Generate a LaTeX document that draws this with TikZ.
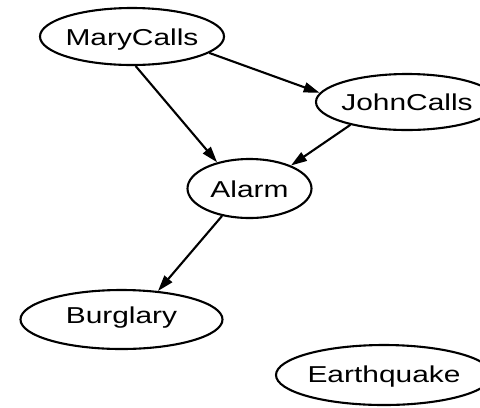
\documentclass[tikz,border=0pt]{standalone}
\usepackage{fontspec}
\setmainfont{Liberation Sans}
\usetikzlibrary{shapes.geometric,arrows.meta}
\newcommand{\nlbl}[2][0bp]{\makebox[0pt][c]{\raisebox{#1}{\scalebox{1.3}[1]{#2}}}}
\begin{document}
\begin{tikzpicture}[x=1bp,y=-1bp,
  bn/.style={ellipse, draw=black, line width=2.1bp, inner sep=0pt,
    text height=17bp, text depth=0bp, font=\fontsize{23bp}{26bp}\selectfont},
  link/.style={draw=black, line width=2.1bp, -{Triangle[length=16bp,width=10bp]}}]
\useasboundingbox (0,0) rectangle (480,407);
\clip (0,0) rectangle (480,407);
\node[bn, minimum width=184bp, minimum height=57bp] (mary) at (132,36.5) {\nlbl{MaryCalls}};
\node[bn, minimum width=182bp, minimum height=56bp] (john) at (407,102) {\nlbl{JohnCalls}};
\node[bn, minimum width=124bp, minimum height=59bp] (alarm) at (249.5,188.5) {\nlbl{Alarm}};
\node[bn, minimum width=202bp, minimum height=59bp] (burglary) at (121.5,319.5) {\nlbl[5bp]{Burglary}};
\node[bn, minimum width=216bp, minimum height=60bp] (earthquake) at (384,375) {\nlbl[1.5bp]{Earthquake}};
\draw[link] (mary.-12) -- (john.174);
\draw[link] (mary.-83) -- (alarm.141);
\draw[link] (john.202) -- (alarm.29);
\draw[link] (alarm.225) -- (burglary.38);
\end{tikzpicture}
\end{document}
